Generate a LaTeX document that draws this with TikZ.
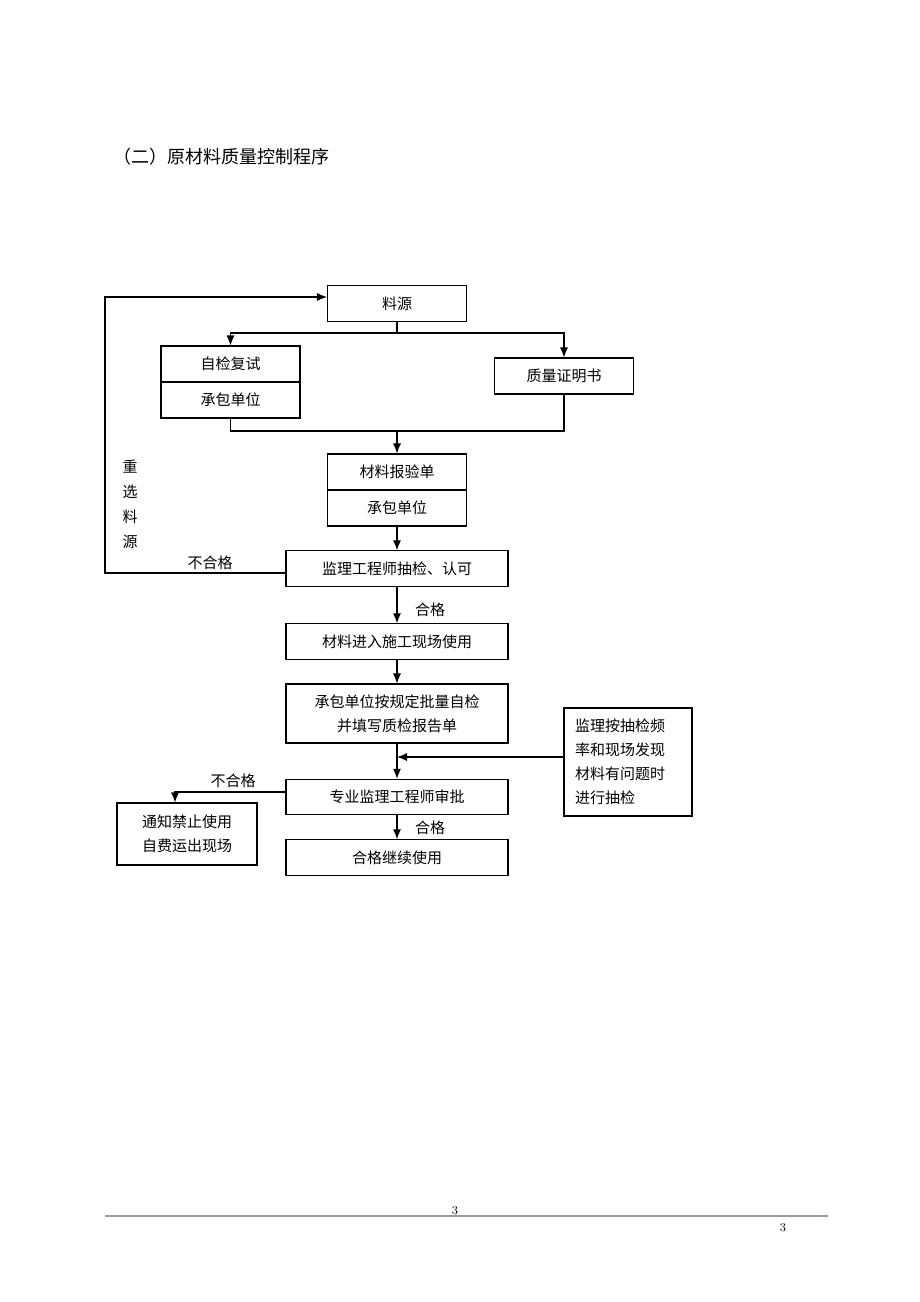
\documentclass[tikz,border=0pt]{standalone}
\usepackage{fontspec}
\newfontfamily\cjk{Noto Sans CJK SC}
\usepackage{tikz}
\usetikzlibrary{arrows.meta}
\definecolor{rulegray}{RGB}{150,158,150}

\begin{document}
\begin{tikzpicture}[x=0.75pt, y=-0.75pt,
    box/.style={draw, thick, font=\cjk\fontsize{11.25}{18}\selectfont,
      align=center, inner sep=0pt},
    small/.style={box, minimum width=104.25pt, minimum height=27pt},
    wide/.style={box, minimum width=166.5pt, minimum height=26.5pt},
    lbl/.style={font=\cjk\fontsize{11.25}{18}\selectfont, inner sep=0pt},
    >={Latex[length=7.5pt, width=6pt]}]
  \useasboundingbox (0,0) rectangle (920,1302);

  \node[font=\cjk\fontsize{13.5}{16}\selectfont, anchor=west, inner sep=0pt]
    (head) at (113,157) {（二）原材料质量控制程序};

  \node[small] (src) at (397,303.5) {料源};

  \node[small] (selfchk) at (230.5,364) {自检复试};
  \node[small] (selfunit) at (230.5,400) {承包单位};

  \node[small] (cert) at (564,376) {质量证明书};

  \node[small] (report) at (397,472) {材料报验单};
  \node[small] (unit) at (397,508) {承包单位};

  \node[wide] (check) at (397,568.5) {监理工程师抽检、认可};

  \node[wide] (enter) at (397,641.5) {材料进入施工现场使用};

  \node[wide, minimum height=44.25pt]
    (batch) at (397,713.5) {承包单位按规定批量自检\\并填写质检报告单};

  \node[box, align=left, text width=79.5pt, inner xsep=8.25pt, minimum height=81pt]
    (spot) at (628,762) {监理按抽检频\\率和现场发现\\材料有问题时\\进行抽检};

  \node[wide] (audit) at (397,797) {专业监理工程师审批};

  \node[box, minimum width=105pt, minimum height=46.5pt]
    (stop) at (187,834) {通知禁止使用\\自费运出现场};

  \node[wide] (ok) at (397,857.5) {合格继续使用};

  \node[lbl] (fail1) at (210,563) {不合格};
  \node[lbl, align=center, font=\cjk\fontsize{11.25}{18.75}\selectfont]
    (reselect) at (130,504) {重\\选\\料\\源};
  \node[lbl] (pass1) at (430,610) {合格};
  \node[lbl] (fail2) at (233,781) {不合格};
  \node[lbl] (pass2) at (430,828) {合格};

  \coordinate (split) at (397,333);
  \coordinate (merge) at (397,431);
  \coordinate (back) at (105,573);
  \coordinate (backtop) at (105,297);
  \coordinate (join) at (397,757);
  \coordinate (turn) at (175,792);

  \draw[thick]
    (src) -- (split)
    (selfunit.south) |- (merge)
    (cert.south) |- (merge);

  \draw[->, thick]
    (split) -| (selfchk.north);
  \draw[->, thick]
    (split) -| (cert.north);

  \draw[->, thick] (merge) -- (report.north);
  \draw[->, thick] (unit) -- (check);

  \draw[->, thick]
    (check.west |- back) -- (back) -- (backtop) -- (src.west |- backtop);

  \draw[->, thick] (check) -- (enter);
  \draw[->, thick] (enter) -- (batch);
  \draw[->, thick] (batch) -- (audit);

  \draw[->, thick] (spot.west |- join) -- (join);

  \draw[->, thick]
    (audit.west |- turn) -- (turn) -- (turn |- stop.north);

  \draw[->, thick] (audit) -- (ok);

  % footer
  \draw[rulegray, line width=0.9pt] (105,1216) -- (828,1216);
  \node[font=\fontsize{9}{10}\selectfont, inner sep=0pt] (pgtop) at (455,1211) {3};
  \node[font=\fontsize{9}{10}\selectfont, inner sep=0pt] (pgbot) at (783,1228) {3};
\end{tikzpicture}
\end{document}
